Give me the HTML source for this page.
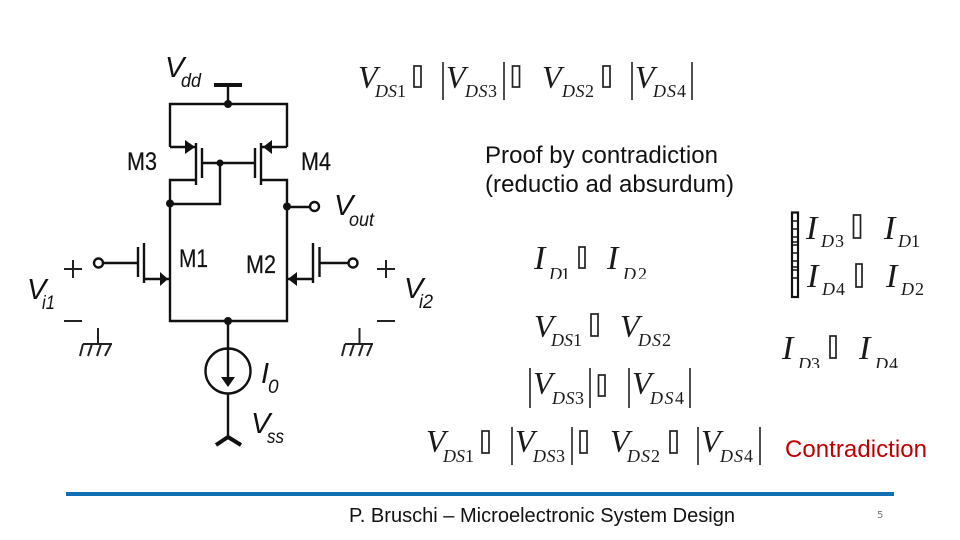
<!DOCTYPE html>
<html><head><meta charset="utf-8"><style>
html,body{margin:0;padding:0;background:#fff}
svg{display:block}
.v{font-family:"Liberation Serif",serif;font-style:italic;font-size:32px;fill:#1a1a1a}
.i{font-family:"Liberation Serif",serif;font-style:italic;font-size:34px;fill:#1a1a1a}
.s{font-family:"Liberation Serif",serif;font-style:italic;font-size:18px;fill:#1a1a1a}
.s tspan{font-style:normal}
.a{font-family:"Liberation Sans",sans-serif;fill:#111}
.m{font-family:"Liberation Sans",sans-serif;fill:#111;stroke:#111;stroke-width:.2}
.ci{font-family:"Liberation Sans",sans-serif;font-style:italic;fill:#111}
.w{stroke:#111;stroke-width:2.4;fill:none}
.b{fill:none;stroke:#222;stroke-width:1.6}
.t{fill:#fff;stroke:#222;stroke-width:1.7}
</style></head><body>
<svg width="960" height="540" viewBox="0 0 960 540" xmlns="http://www.w3.org/2000/svg">
<rect width="960" height="540" fill="#fff"/>
<!-- circuit wires -->
<path class="w" d="M228 85V104M170 147V104H287V147M196 147H170M287 147H261M196 180H170V279H144M261 180H287V279H313M170 279V321H287V279M170 204H220V163M202 163H255M287 207H310M104 263H138M319 263H348M228 321V354M228 354V380M228 394V437"/>
<path d="M214 85H242" stroke="#111" stroke-width="4"/>
<path d="M216 445L228 437L241 445" fill="none" stroke="#111" stroke-width="4"/>
<g stroke="#111" stroke-width="2.400" fill="none">
<path d="M196 143V185M202 148V178"/>
<path d="M261 143V185M255 148V178"/>
<path d="M144 243V283M138 247V277"/>
<path d="M313 243V283M319.500 247V277"/>
<circle cx="98.500" cy="263" r="4.500"/>
<circle cx="314.500" cy="206.500" r="4.500"/>
<circle cx="353" cy="263" r="4.500"/>
<circle cx="228" cy="371" r="22.500"/>
</g>
<g fill="#111">
<circle cx="228" cy="104" r="4"/><circle cx="220" cy="163" r="3.500"/>
<circle cx="170" cy="203.500" r="4"/><circle cx="287" cy="206.500" r="4"/>
<circle cx="228" cy="321" r="4"/>
<path d="M195 147L185 140V154Z"/><path d="M263 147L272 140V154Z"/>
<path d="M168 279L160 272V286Z"/><path d="M288 279L297 272V286Z"/>
<path d="M228 387L221 377H235Z"/>
</g>
<!-- grounds and +/- -->
<g stroke="#222" stroke-width="2" fill="none">
<path d="M64 269H82M73 260V278M64 321H82"/>
<path d="M377 269H395M386 260V278M377 321H395"/>
<path d="M98 328V344M83 344H112M83 344L80 356M92 344L88 356M101 344L97 356M111 344L105 356"/>
<path d="M359.500 328V344M345 344H373M345 344L342 356M354 344L350 356M363 344L359 356M372 344L367 356"/>
</g>
<!-- circuit labels -->
<text class="m" x="127" y="170" font-size="25" textLength="30" lengthAdjust="spacingAndGlyphs">M3</text>
<text class="m" x="301" y="170" font-size="25" textLength="30" lengthAdjust="spacingAndGlyphs">M4</text>
<text class="m" x="179" y="267" font-size="25" textLength="29" lengthAdjust="spacingAndGlyphs">M1</text>
<text class="m" x="246" y="273" font-size="25" textLength="30" lengthAdjust="spacingAndGlyphs">M2</text>
<text class="ci" x="165" y="77" font-size="29">V</text><text class="ci" x="181" y="87" font-size="19" textLength="20" lengthAdjust="spacingAndGlyphs">dd</text>
<text class="ci" x="334" y="215" font-size="29">V</text><text class="ci" x="349" y="226" font-size="19" textLength="25" lengthAdjust="spacingAndGlyphs">out</text>
<text class="ci" x="27" y="299" font-size="29">V</text><text class="ci" x="42" y="309" font-size="19" textLength="13" lengthAdjust="spacingAndGlyphs">i1</text>
<text class="ci" x="404" y="298" font-size="29">V</text><text class="ci" x="419" y="308" font-size="19" textLength="14" lengthAdjust="spacingAndGlyphs">i2</text>
<text class="ci" x="261" y="383" font-size="29">I</text><text class="ci" x="268" y="393" font-size="19">0</text>
<text class="ci" x="251" y="433" font-size="29">V</text><text class="ci" x="267" y="443" font-size="19" textLength="17" lengthAdjust="spacingAndGlyphs">ss</text>
<!-- top equation -->
<text class="v" x="358" y="88">V</text><text class="s" x="375" y="97" textLength="31" lengthAdjust="spacing">DS<tspan>1</tspan></text>
<rect class="t" x="414" y="66" width="7" height="21"/>
<path class="b" d="M443 62V100M504 62V100M632 62V100M692 62V100"/>
<text class="v" x="446" y="88">V</text><text class="s" x="465" y="97" textLength="32" lengthAdjust="spacing">DS<tspan>3</tspan></text>
<rect class="t" x="512.500" y="66" width="7" height="21"/>
<text class="v" x="542" y="88">V</text><text class="s" x="562" y="97" textLength="32" lengthAdjust="spacing">DS<tspan>2</tspan></text>
<rect class="t" x="603" y="66" width="7" height="21"/>
<text class="v" x="635" y="88">V</text><text class="s" x="653" y="97" textLength="33" lengthAdjust="spacing">DS<tspan>4</tspan></text>
<!-- middle column -->
<text class="i" x="534" y="269">I</text><text class="s" x="549" y="280" textLength="21" lengthAdjust="spacing">D<tspan>1</tspan></text>
<text class="i" x="607" y="269">I</text><text class="s" x="623" y="280" textLength="24" lengthAdjust="spacing">D<tspan>2</tspan></text>
<rect x="545" y="279" width="110" height="8" fill="#fff"/>
<rect class="t" x="579" y="247" width="6" height="21"/>
<text class="v" x="534" y="337">V</text><text class="s" x="551" y="346" textLength="31" lengthAdjust="spacing">DS<tspan>1</tspan></text>
<rect class="t" x="591" y="314" width="7" height="22"/>
<text class="v" x="620" y="337">V</text><text class="s" x="638" y="346" textLength="33" lengthAdjust="spacing">DS<tspan>2</tspan></text>
<path class="b" d="M530 368V408M590 368V408M629 368V408M690 368V408"/>
<text class="v" x="533" y="394">V</text><text class="s" x="552" y="404" textLength="32" lengthAdjust="spacing">DS<tspan>3</tspan></text>
<rect class="t" x="598.500" y="375" width="6.500" height="21"/>
<text class="v" x="632" y="394">V</text><text class="s" x="650" y="404" textLength="34" lengthAdjust="spacing">DS<tspan>4</tspan></text>
<!-- bottom equation -->
<text class="v" x="426" y="452">V</text><text class="s" x="443" y="462" textLength="31" lengthAdjust="spacing">DS<tspan>1</tspan></text>
<rect class="t" x="482" y="431" width="7" height="22"/>
<path class="b" d="M512 427V465M572 427V465M698 427V465M760 427V465"/>
<text class="v" x="515" y="452">V</text><text class="s" x="533" y="462" textLength="32" lengthAdjust="spacing">DS<tspan>3</tspan></text>
<rect class="t" x="580" y="431" width="7" height="22"/>
<text class="v" x="610" y="452">V</text><text class="s" x="627" y="462" textLength="33" lengthAdjust="spacing">DS<tspan>2</tspan></text>
<rect class="t" x="670" y="431" width="7" height="22"/>
<text class="v" x="701" y="452">V</text><text class="s" x="720" y="462" textLength="33" lengthAdjust="spacing">DS<tspan>4</tspan></text>
<!-- right block -->
<path d="M792 221H798M792 229H798M792 237H798M792 242H798M792 245H798M792 253H798M792 261H798M792 267H798M792 270H798M792 278H798" stroke="#111" stroke-width="1.500"/>
<rect x="792" y="212.500" width="6" height="84.500" fill="none" stroke="#111" stroke-width="2.200"/>
<text class="i" x="806" y="239">I</text><text class="s" x="821" y="247" textLength="23" lengthAdjust="spacing">D<tspan>3</tspan></text>
<rect class="t" x="853.500" y="215" width="7" height="23"/>
<text class="i" x="884" y="239">I</text><text class="s" x="898" y="247" textLength="22" lengthAdjust="spacing">D<tspan>1</tspan></text>
<text class="i" x="807" y="287">I</text><text class="s" x="822" y="295" textLength="23" lengthAdjust="spacing">D<tspan>4</tspan></text>
<rect class="t" x="856" y="264" width="6" height="23"/>
<text class="i" x="886" y="287">I</text><text class="s" x="901" y="295" textLength="23" lengthAdjust="spacing">D<tspan>2</tspan></text>
<text class="i" x="782" y="359">I</text><text class="s" x="798" y="370" textLength="22" lengthAdjust="spacing">D<tspan>3</tspan></text>
<text class="i" x="859" y="359">I</text><text class="s" x="875" y="370" textLength="23" lengthAdjust="spacing">D<tspan>4</tspan></text>
<rect x="790" y="368" width="115" height="8" fill="#fff"/>
<rect class="t" x="830" y="336" width="6" height="22"/>
<!-- text -->
<text class="a" x="485" y="163" font-size="24" textLength="233" lengthAdjust="spacing">Proof by contradiction</text>
<text class="a" x="485" y="192" font-size="24" textLength="249" lengthAdjust="spacing">(reductio ad absurdum)</text>
<text x="785" y="457" font-family="Liberation Sans, sans-serif" font-size="24" fill="#c00000" textLength="142" lengthAdjust="spacing">Contradiction</text>
<rect x="66" y="492" width="828" height="4" fill="#0f6fb2"/>
<text class="a" x="349" y="522" font-size="20" textLength="386" lengthAdjust="spacingAndGlyphs">P. Bruschi – Microelectronic System Design</text>
<text x="877" y="518" font-family="DejaVu Sans, sans-serif" font-size="10" fill="#777">5</text>
</svg>
</body></html>
